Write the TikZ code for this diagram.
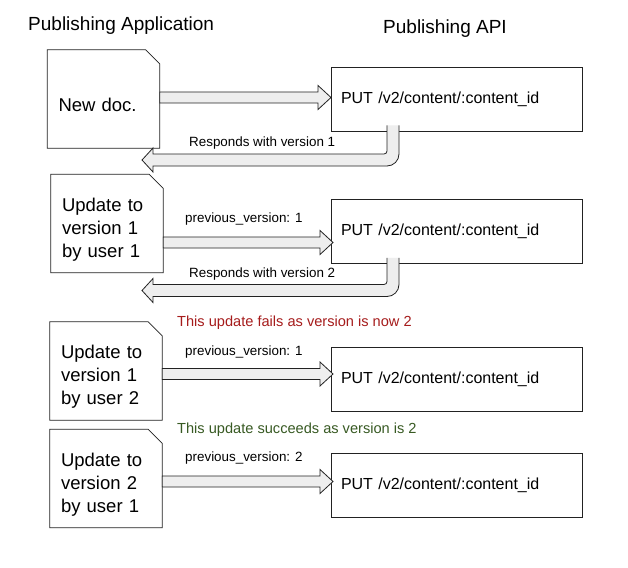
\documentclass[tikz,border=0pt]{standalone}
\usepackage{fontspec}
\setmainfont{Liberation Sans}
\usetikzlibrary{calc}
\definecolor{publine}{RGB}{34, 34, 34}
\definecolor{pubfill}{RGB}{238, 238, 238}
\definecolor{pubred}{RGB}{166, 28, 28}
\definecolor{pubgreen}{RGB}{56, 90, 35}

\begin{document}
\begin{tikzpicture}[x=1pt, y=-1pt,
		% Node styles
		heading/.style={font=\fontsize{19}{22}\selectfont, anchor=west, inner sep=0pt},
		doc/.style={minimum width=112pt, minimum height=98pt, inner xsep=11pt, text width=90pt,
				align=left, font=\fontsize{18.5}{23}\selectfont},
		docline/.style={draw=publine, line width=0.8pt},
		endpoint/.style={draw=publine, line width=0.8pt, fill=white, minimum width=251pt, minimum height=64pt,
				inner sep=10pt, text width=231pt, align=left, font=\fontsize{16}{19}\selectfont},
		note/.style={font=\fontsize{13.4}{16}\selectfont, anchor=west, inner sep=0pt},
		verdict/.style={font=\fontsize{14.6}{17}\selectfont, anchor=west, inner sep=0pt, text=#1},
		% Block arrows
		pusharrow/.style={draw=publine, fill=pubfill, line width=0.8pt,
				to path={let \p1=(\tikztostart), \p2=(\tikztotarget) in
						(\x1,\y1+5.5pt) -- (\x2-13pt,\y1+5.5pt) -- (\x2-13pt,\y1+12pt) -- (\x2,\y2)
						-- (\x2-13pt,\y1-12pt) -- (\x2-13pt,\y1-5.5pt) -- (\x1,\y1-5.5pt) -- cycle}},
		backarrow/.style={draw=publine, fill=pubfill, line width=0.8pt,
				to path={let \p1=(\tikztostart), \p2=(\tikztotarget) in
						(\x1+6pt,\y1) -- (\x1+6pt,\y2+6pt) arc[start angle=0, end angle=-90, radius=12pt]
						-- (\x2+11pt,\y2-6pt) -- (\x2+11pt,\y2-12pt) -- (\x2,\y2) -- (\x2+11pt,\y2+12pt)
						-- (\x2+11pt,\y2+6pt) -- (\x1-9pt,\y2+6pt) arc[start angle=-90, end angle=0, radius=3pt]
						-- (\x1-6pt,\y1)}}
	]

	\useasboundingbox[fill=white] (0,0) rectangle (628,567);

	% Titles
	\node[heading] (apptitle) at (28,26) {Publishing Application};
	\node[heading] (apititle) at (383,29) {Publishing API};

	% Documents on the application side (text sits a little below the middle)
	\node[doc] (doc1) at (103.5,105) {New doc.};
	\node[doc] (doc2) at (107,229.5) {Update to\\version 1\\by user 1};
	\node[doc] (doc3) at (106,377) {Update to\\version 1\\by user 2};
	\node[doc] (doc4) at (106,484.5) {Update to\\version 2\\by user 1};

	% Folded corner outline
	\foreach \d in {doc1,doc2,doc3,doc4}
	\draw[docline] ([yshift=6pt]\d.south west) -- ([yshift=6pt]\d.north west) -- ([xshift=-14pt, yshift=6pt]\d.north east)
	-- ([yshift=-8pt]\d.north east) -- ([yshift=6pt]\d.south east) -- cycle;

	% Endpoints on the API side
	\node[endpoint] (put1) at (456.5,99) {PUT /v2/content/:content\_id};
	\node[endpoint] (put2) at (456.5,231.5) {PUT /v2/content/:content\_id};
	\node[endpoint] (put3) at (456.5,379) {PUT /v2/content/:content\_id};
	\node[endpoint] (put4) at (456.5,485.5) {PUT /v2/content/:content\_id};

	% Arrow tips
	\coordinate (tip1) at (331,97.5);
	\coordinate (tip2) at (333,242.5);
	\coordinate (tip3) at (333,374);
	\coordinate (tip4) at (333,481.5);
	\coordinate (ret1) at ([xshift=-63.5pt, yshift=6pt]put1.south);
	\coordinate (ret2) at ([xshift=-63.5pt, yshift=6pt]put2.south);
	\coordinate (back1) at (142,160);
	\coordinate (back2) at (142,290.5);

	% Requests
	\draw[pusharrow] (doc1.east |- tip1) to (tip1);
	\draw[pusharrow] (doc2.east |- tip2) to (tip2);
	\draw[pusharrow] (doc3.east |- tip3) to (tip3);
	\draw[pusharrow] (doc4.east |- tip4) to (tip4);

	% Responses
	\draw[backarrow] (ret1) to (back1);
	\draw[backarrow] (ret2) to (back2);

	% Labels
	\node[note] (resp1) at (189,143) {Responds with version 1};
	\node[note] (prev2) at (185,219) {previous\_version: 1};
	\node[note] (resp2) at (189,274) {Responds with version 2};
	\node[verdict=pubred] (fails) at (177,323) {This update fails as version is now 2};
	\node[note] (prev3) at (185,352) {previous\_version: 1};
	\node[verdict=pubgreen] (works) at (177,430) {This update succeeds as version is 2};
	\node[note] (prev4) at (185,458) {previous\_version: 2};

\end{tikzpicture}
\end{document}
